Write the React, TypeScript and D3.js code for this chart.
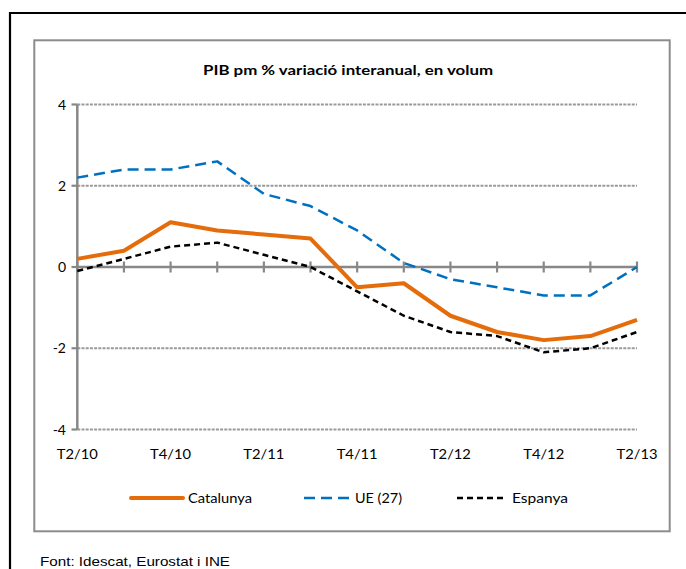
import React from "react";
import * as d3 from "d3";

const categories = ["T2/10","T3/10","T4/10","T1/11","T2/11","T3/11","T4/11","T1/12","T2/12","T3/12","T4/12","T1/13","T2/13"];
const tickLabels = ["T2/10","T4/10","T2/11","T4/11","T2/12","T4/12","T2/13"];
const catalunya = [0.2, 0.4, 1.1, 0.9, 0.8, 0.7, -0.5, -0.4, -1.2, -1.6, -1.8, -1.7, -1.3];
const ue27 = [2.2, 2.4, 2.4, 2.6, 1.8, 1.5, 0.9, 0.1, -0.3, -0.5, -0.7, -0.7, 0.0];
const espanya = [-0.1, 0.2, 0.5, 0.6, 0.3, 0.0, -0.6, -1.2, -1.6, -1.7, -2.1, -2.0, -1.6];
const yTicks = [-4, -2, 0, 2, 4];

const W = 686, H = 569;
const FONT = "Lato, 'Open Sans', sans-serif";

export default function App() {
  const x = d3.scalePoint<string>().domain(categories).range([77.3, 637]);
  const y = d3.scaleLinear().domain([-4, 4]).range([429.5, 104.5]);
  const line = d3.line<number>().x((_, i) => x(categories[i])!).y(d => y(d));

  const series = [
    { name: "Catalunya", data: catalunya, color: "#E46C0A", width: 4, dash: "none", lx: 131, lw: 52, tw: 64 },
    { name: "UE (27)", data: ue27, color: "#0070C0", width: 2.5, dash: "11,6", lx: 304, lw: 46, tw: 47 },
    { name: "Espanya", data: espanya, color: "#000000", width: 2.5, dash: "6,4", lx: 457, lw: 50, tw: 56 },
  ];

  const x0 = x(categories[0])!;
  const x1 = x(categories[categories.length - 1])!;

  return (
    <svg width={W} height={H} style={{ position: "absolute", left: 0, top: 0, background: "#fff" }}>
      <rect x={0} y={0} width={W} height={H} fill="#fff" />
      <path d={`M10,${H + 10} L10,13 L${W + 10},13`} fill="none" stroke="#000" strokeWidth={2.2} />
      <rect x={34.3} y={40.3} width={635.4} height={491} fill="#fff" stroke="#8c8c8c" strokeWidth={2} />
      <text x={348} y={75} textAnchor="middle" fontFamily={FONT} fontWeight="bold" fontSize={13.5} fill="#000"
        textLength={290} lengthAdjust="spacingAndGlyphs">
        PIB pm % variació interanual,  en volum
      </text>

      {yTicks.filter(t => t !== 0).map(t => (
        <line key={"g" + t} x1={x0} x2={x1} y1={y(t)} y2={y(t)} stroke="#9a9a9a" strokeWidth={2} strokeDasharray="3,1.2" />
      ))}
      {yTicks.map(t => (
        <g key={"yt" + t}>
          <line x1={71.5} x2={x0} y1={y(t)} y2={y(t)} stroke="#888" strokeWidth={2.2} />
          <text x={66} y={y(t) + 5} textAnchor="end" fontFamily={FONT} fontSize={14} fill="#000">{t}</text>
        </g>
      ))}
      <line x1={x0} x2={x0} y1={y(4)} y2={y(-4)} stroke="#888" strokeWidth={2.5} />
      <line x1={x0} x2={x1} y1={y(0)} y2={y(0)} stroke="#888" strokeWidth={2.5} />
      {categories.map(c => (
        <line key={"xt" + c} x1={x(c)!} x2={x(c)!} y1={y(0) - 5.5} y2={y(0) + 5.5} stroke="#888" strokeWidth={2.2} />
      ))}
      {tickLabels.map(c => (
        <text key={"xl" + c} x={x(c)!} y={459} textAnchor="middle" fontFamily={FONT} fontSize={14} fill="#000"
          textLength={41} lengthAdjust="spacingAndGlyphs">{c}</text>
      ))}

      {series.slice().reverse().map(s => (
        <path key={s.name} d={line(s.data)!} fill="none" stroke={s.color} strokeWidth={s.width} strokeDasharray={s.dash} strokeLinejoin="round" />
      ))}

      {series.map(s => (
        <g key={"lg" + s.name}>
          <line x1={s.lx} x2={s.lx + s.lw} y1={498} y2={498} stroke={s.color} strokeWidth={s.width} strokeDasharray={s.dash} strokeLinecap={s.dash === "none" ? "round" : "butt"} />
          <text x={s.lx + s.lw + 5} y={503} fontFamily={FONT} fontSize={14} fill="#000"
            textLength={s.tw} lengthAdjust="spacingAndGlyphs">{s.name}</text>
        </g>
      ))}

      <text x={40} y={566} fontFamily="'Liberation Sans', Arial, sans-serif" fontSize={13} fill="#000"
        textLength={190} lengthAdjust="spacingAndGlyphs">Font: Idescat, Eurostat i INE</text>
    </svg>
  );
}
